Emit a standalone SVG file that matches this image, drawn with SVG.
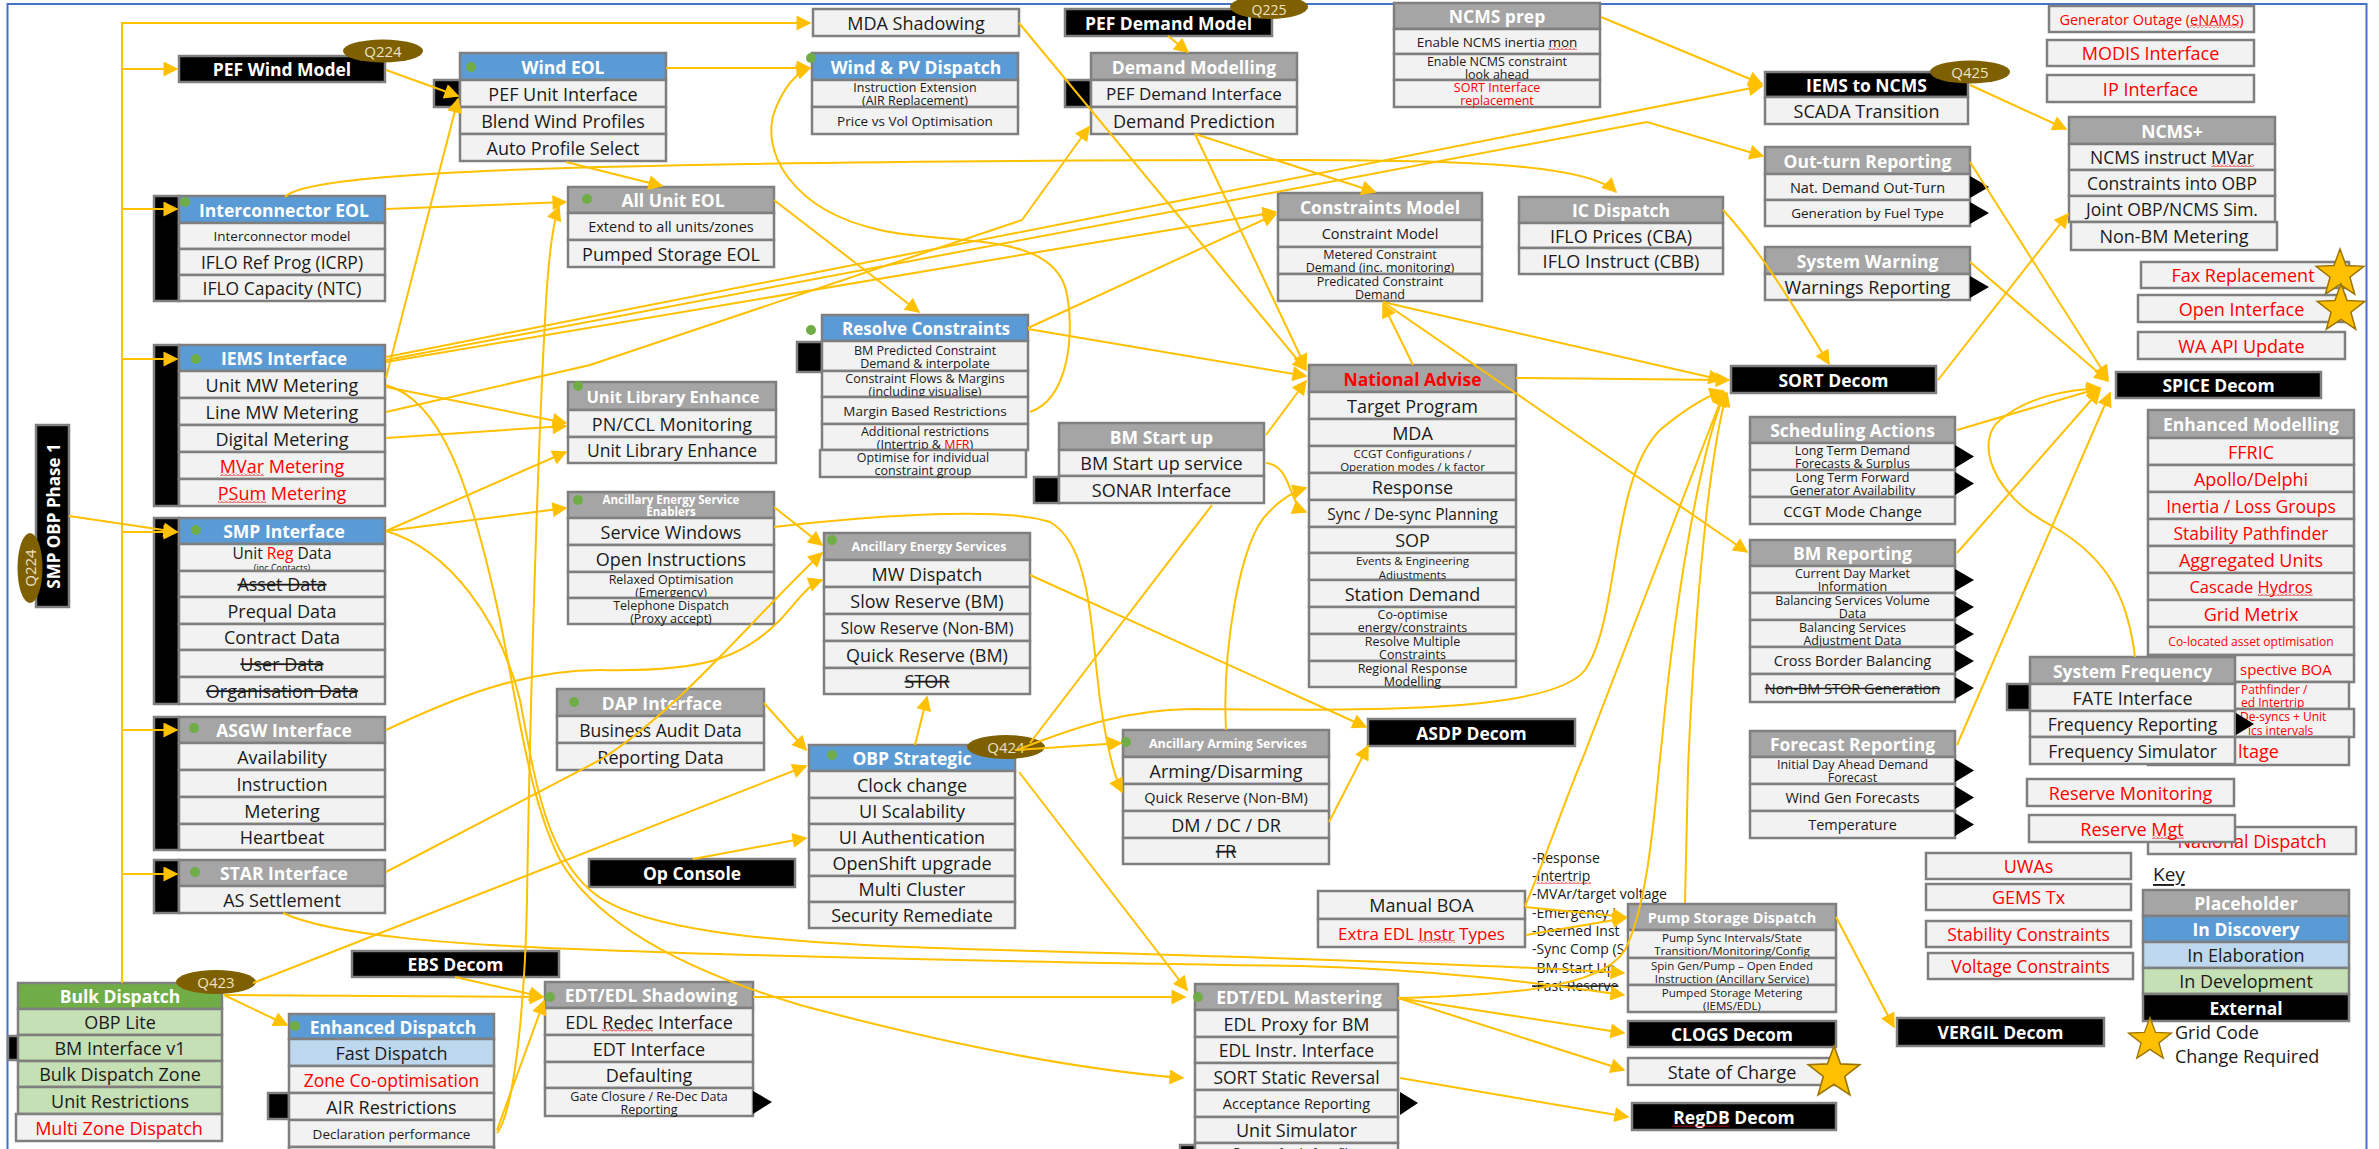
<svg xmlns="http://www.w3.org/2000/svg" width="2379" height="1149" viewBox="0 0 2379 1149">
<defs>
<style>
.r{fill:#F2F2F2;stroke:#7F7F7F;stroke-width:2.5}
.b{fill:#5B9BD5;stroke:#7F7F7F;stroke-width:2.5}
.g{fill:#A5A5A5;stroke:#7F7F7F;stroke-width:2.5}
.k{fill:#000;stroke:#7F7F7F;stroke-width:2.5}
.lb{fill:#BDD7EE;stroke:#7F7F7F;stroke-width:2.5}
.gn{fill:#70AD47;stroke:#7F7F7F;stroke-width:2.5}
.lg{fill:#C5E0B4;stroke:#7F7F7F;stroke-width:2.5}
text{font-family:'Open Sans',Lato,'Liberation Sans',sans-serif;text-anchor:middle;dominant-baseline:central;fill:#1a1a1a;font-size:18px}
.h{font-weight:bold;fill:#fff;font-size:17.5px}
.s{font-size:13.5px}
.s2{font-size:12.5px}
.xs{font-size:11.5px}
.m{font-size:16px}
.red{fill:#FF0000}
.st{text-decoration:line-through}
.dot{fill:#70AD47}
.ov{fill:#7F6000}
.ovt{fill:#EDE3C4;font-size:15px}
.tri{fill:#000}
.lab{text-anchor:start;font-size:14px}
.frag{text-anchor:start}
.c{fill:none;stroke:#FFC000;stroke-width:2;marker-end:url(#ah)}
.n{fill:none;stroke:#FFC000;stroke-width:2}
.star{fill:#FFC000;stroke:#9C7500;stroke-width:1.5}
.wv{fill:url(#wavy)}
</style>
<marker id="ah" viewBox="0 0 10 10" refX="9" refY="5" markerWidth="17" markerHeight="15" markerUnits="userSpaceOnUse" orient="auto"><path d="M0,0 L10,5 L0,10 z" fill="#FFC000"/></marker>
<pattern id="wavy" width="4" height="3" patternUnits="userSpaceOnUse"><path d="M0,2.5 L2,0.5 L4,2.5" fill="none" stroke="#E00000" stroke-width="0.9"/></pattern>
<polygon id="starShape" points="0,-25 6.1,-8.4 23.8,-7.7 9.9,3.2 14.7,20.2 0,10.4 -14.7,20.2 -9.9,3.2 -23.8,-7.7 -6.1,-8.4"/>
</defs>

<rect width="2379" height="1149" fill="#fff"/>
<rect x="7.5" y="4" width="2359" height="1170" fill="none" stroke="#4472C4" stroke-width="2"/>

<!-- left column -->
<g id="smp-obp-phase1">
<rect class="k" x="36" y="425" width="33" height="182"/>
<text class="h" transform="translate(53,516) rotate(-90)" style="font-size:17px">SMP OBP Phase 1</text>
<ellipse class="ov" cx="30" cy="568" rx="12.5" ry="35"/>
<text class="ovt" transform="translate(30,568) rotate(-90)">Q224</text>
</g>

<g id="pef-wind-model">
<rect class="k" x="179" y="56" width="206" height="26"/>
<text class="h" x="282" y="69">PEF Wind Model</text>
<ellipse class="ov" cx="383" cy="51" rx="40" ry="11.5"/>
<text class="ovt" x="383" y="51">Q224</text>
</g>

<g id="interconnector-eol">
<rect class="k" x="154" y="196" width="25" height="105"/>
<rect class="b" x="179" y="196" width="206" height="27"/>
<circle class="dot" cx="185" cy="202" r="5"/>
<text class="h" x="284" y="209.5">Interconnector EOL</text>
<rect class="r" x="179" y="223" width="206" height="26"/><text class="s" x="282" y="236">Interconnector model</text>
<rect class="r" x="179" y="249" width="206" height="26"/><text x="282" y="262" style="font-size:17.5px">IFLO Ref Prog (ICRP)</text>
<rect class="r" x="179" y="275" width="206" height="26"/><text x="282" y="288" style="font-size:17.5px">IFLO Capacity (NTC)</text>
</g>

<g id="iems-interface">
<rect class="k" x="154" y="345" width="25" height="161"/>
<rect class="b" x="179" y="345" width="206" height="26"/>
<circle class="dot" cx="196" cy="359" r="5"/>
<text class="h" x="284" y="358">IEMS Interface</text>
<rect class="r" x="179" y="371" width="206" height="27"/><text x="282" y="384.5">Unit MW Metering</text>
<rect class="r" x="179" y="398" width="206" height="27"/><text x="282" y="411.5">Line MW Metering</text>
<rect class="r" x="179" y="425" width="206" height="27"/><text x="282" y="438.5">Digital Metering</text>
<rect class="r" x="179" y="452" width="206" height="27"/><text class="red" x="282" y="465.5">MVar Metering</text>
<rect class="r" x="179" y="479" width="206" height="27"/><text class="red" x="282" y="492.5">PSum Metering</text>
</g>

<g id="smp-interface">
<rect class="k" x="154" y="518" width="25" height="186"/>
<rect class="b" x="179" y="518" width="206" height="26"/>
<circle class="dot" cx="196" cy="530" r="5"/>
<text class="h" x="284" y="531">SMP Interface</text>
<rect class="r" x="179" y="544" width="206" height="27"/>
<text><tspan x="282" y="552.5" style="font-size:15.5px">Unit <tspan class="red">Reg</tspan> Data</tspan><tspan x="282" y="566.5" style="font-size:9px">(inc Contacts)</tspan></text>
<rect class="r" x="179" y="571" width="206" height="26"/><text class="st" x="282" y="584">Asset Data</text>
<rect class="r" x="179" y="597" width="206" height="27"/><text x="282" y="610.5">Prequal Data</text>
<rect class="r" x="179" y="624" width="206" height="26"/><text x="282" y="637">Contract Data</text>
<rect class="r" x="179" y="650" width="206" height="27"/><text class="st" x="282" y="663.5">User Data</text>
<rect class="r" x="179" y="677" width="206" height="27"/><text class="st" x="282" y="690.5">Organisation Data</text>
</g>

<g id="asgw-interface">
<rect class="k" x="154" y="717" width="25" height="133"/>
<rect class="g" x="179" y="717" width="206" height="26"/>
<circle class="dot" cx="194" cy="728" r="5"/>
<text class="h" x="284" y="730">ASGW Interface</text>
<rect class="r" x="179" y="743" width="206" height="27"/><text x="282" y="756.5">Availability</text>
<rect class="r" x="179" y="770" width="206" height="27"/><text x="282" y="783.5">Instruction</text>
<rect class="r" x="179" y="797" width="206" height="27"/><text x="282" y="810.5">Metering</text>
<rect class="r" x="179" y="824" width="206" height="26"/><text x="282" y="837">Heartbeat</text>
</g>

<g id="star-interface">
<rect class="k" x="154" y="860" width="25" height="53"/>
<rect class="g" x="179" y="860" width="206" height="26"/>
<circle class="dot" cx="195" cy="872" r="5"/>
<text class="h" x="284" y="873">STAR Interface</text>
<rect class="r" x="179" y="886" width="206" height="27"/><text x="282" y="899.5">AS Settlement</text>
</g>

<g id="bulk-dispatch">
<rect class="k" x="8" y="1036" width="12" height="24"/>
<rect class="gn" x="18" y="983" width="204" height="26"/>
<text class="h" x="120" y="996">Bulk Dispatch</text>
<rect class="lg" x="18" y="1009" width="204" height="26"/><text x="120" y="1022">OBP Lite</text>
<rect class="lg" x="18" y="1035" width="204" height="26"/><text x="120" y="1048">BM Interface v1</text>
<rect class="lg" x="18" y="1061" width="204" height="26"/><text x="120" y="1074">Bulk Dispatch Zone</text>
<rect class="lg" x="18" y="1087" width="204" height="27"/><text x="120" y="1100.5">Unit Restrictions</text>
<rect class="r" x="16" y="1114" width="206" height="27"/><text class="red" x="119" y="1127.5">Multi Zone Dispatch</text>
<ellipse class="ov" cx="216" cy="982" rx="40" ry="12"/>
<text class="ovt" x="216" y="982">Q423</text>
</g>

<g id="enhanced-dispatch">
<rect class="k" x="268" y="1093" width="21" height="26"/>
<rect class="b" x="289" y="1014" width="205" height="25"/>
<circle class="dot" cx="295" cy="1026" r="5"/>
<text class="h" x="393" y="1026.5">Enhanced Dispatch</text>
<rect class="lb" x="289" y="1039" width="205" height="27"/><text x="391.5" y="1052.5">Fast Dispatch</text>
<rect class="r" x="289" y="1066" width="205" height="27"/><text class="red" x="391.5" y="1079.5" style="font-size:17.5px">Zone Co-optimisation</text>
<rect class="r" x="289" y="1093" width="205" height="27"/><text x="391.5" y="1106.5">AIR Restrictions</text>
<rect class="r" x="289" y="1120" width="205" height="27"/><text class="s" x="391.5" y="1133.5">Declaration performance</text>
<rect class="r" x="289" y="1147" width="205" height="27"/>
</g>

<g id="ebs-decom">
<rect class="k" x="352" y="951" width="207" height="26"/>
<text class="h" x="455.5" y="964">EBS Decom</text>
</g>

<g id="edt-edl-shadowing">
<rect class="g" x="545" y="982" width="208" height="26"/>
<circle class="dot" cx="550" cy="997" r="5"/>
<text class="h" x="651" y="995">EDT/EDL Shadowing</text>
<rect class="r" x="545" y="1008" width="208" height="27"/><text x="649" y="1021.5">EDL Redec Interface</text>
<rect class="r" x="545" y="1035" width="208" height="27"/><text x="649" y="1048.5">EDT Interface</text>
<rect class="r" x="545" y="1062" width="208" height="26"/><text x="649" y="1075">Defaulting</text>
<rect class="r" x="545" y="1088" width="208" height="28"/>
<text class="s2"><tspan x="649" y="1095.5">Gate Closure / Re-Dec Data</tspan><tspan x="649" y="1108.5">Reporting</tspan></text>
<path class="tri" d="M753,1091 L772,1102 L753,1114 z"/>
</g>

<!-- second column -->
<g id="wind-eol">
<rect class="k" x="434" y="80" width="26" height="27"/>
<rect class="b" x="460" y="53" width="206" height="27"/>
<circle class="dot" cx="471" cy="67" r="5"/>
<text class="h" x="563" y="66.5">Wind EOL</text>
<rect class="r" x="460" y="80" width="206" height="27"/><text x="563" y="93.5">PEF Unit Interface</text>
<rect class="r" x="460" y="107" width="206" height="27"/><text x="563" y="120.5">Blend Wind Profiles</text>
<rect class="r" x="460" y="134" width="206" height="27"/><text x="563" y="147.5">Auto Profile Select</text>
</g>

<g id="all-unit-eol">
<rect class="g" x="568" y="187" width="206" height="26"/>
<circle class="dot" cx="587" cy="199" r="5"/>
<text class="h" x="673" y="200">All Unit EOL</text>
<rect class="r" x="568" y="213" width="206" height="27"/><text x="671" y="226.5" style="font-size:14.5px">Extend to all units/zones</text>
<rect class="r" x="568" y="240" width="206" height="27"/><text x="671" y="253.5">Pumped Storage EOL</text>
</g>

<g id="unit-library-enhance">
<rect class="g" x="568" y="382" width="208" height="28"/>
<circle class="dot" cx="578" cy="386" r="5"/>
<text class="h" x="673" y="396" style="font-size:16.5px">Unit Library Enhance</text>
<rect class="r" x="568" y="410" width="208" height="27"/><text x="672" y="423.5">PN/CCL Monitoring</text>
<rect class="r" x="568" y="437" width="208" height="26"/><text x="672" y="450" style="font-size:17.5px">Unit Library Enhance</text>
</g>

<g id="aes-enablers">
<rect class="g" x="568" y="492" width="206" height="26"/>
<circle class="dot" cx="578" cy="500" r="5"/>
<text class="h" style="font-size:11.5px"><tspan x="671" y="498.5">Ancillary Energy Service</tspan><tspan x="671" y="511">Enablers</tspan></text>
<rect class="r" x="568" y="518" width="206" height="27"/><text x="671" y="531.5">Service Windows</text>
<rect class="r" x="568" y="545" width="206" height="27"/><text x="671" y="558.5">Open Instructions</text>
<rect class="r" x="568" y="572" width="206" height="26"/>
<text class="s2"><tspan x="671" y="578.5">Relaxed Optimisation</tspan><tspan x="671" y="591.5">(Emergency)</tspan></text>
<rect class="r" x="568" y="598" width="206" height="26"/>
<text class="s2"><tspan x="671" y="604.5">Telephone Dispatch</tspan><tspan x="671" y="617.5">(Proxy accept)</tspan></text>
</g>

<g id="dap-interface">
<rect class="g" x="557" y="689" width="207" height="27"/>
<circle class="dot" cx="574" cy="702" r="5"/>
<text class="h" x="662" y="702.5">DAP Interface</text>
<rect class="r" x="557" y="716" width="207" height="27"/><text x="660.5" y="729.5" style="font-size:17.5px">Business Audit Data</text>
<rect class="r" x="557" y="743" width="207" height="27"/><text x="660.5" y="756.5">Reporting Data</text>
</g>

<g id="op-console">
<rect class="k" x="589" y="859" width="206" height="28"/>
<text class="h" x="692" y="873">Op Console</text>
</g>

<!-- third column -->
<g id="mda-shadowing">
<rect class="r" x="813" y="9" width="206" height="27"/>
<text x="916" y="22.5">MDA Shadowing</text>
</g>

<g id="wind-pv-dispatch">
<rect class="b" x="812" y="53" width="206" height="27"/>
<circle class="dot" cx="811" cy="58" r="5"/>
<text class="h" x="916" y="66.5">Wind &amp; PV Dispatch</text>
<rect class="r" x="812" y="80" width="206" height="27"/>
<text class="s2"><tspan x="915" y="87">Instruction Extension</tspan><tspan x="915" y="100">(AIR Replacement)</tspan></text>
<rect class="r" x="812" y="107" width="206" height="27"/><text class="s" x="915" y="120.5">Price vs Vol Optimisation</text>
</g>

<g id="resolve-constraints">
<rect class="k" x="797" y="342" width="25" height="30"/>
<rect class="b" x="822" y="315" width="206" height="26"/>
<circle class="dot" cx="811" cy="330" r="5"/>
<text class="h" x="926" y="328" style="font-size:17px">Resolve Constraints</text>
<rect class="r" x="822" y="341" width="206" height="30"/>
<text class="s2"><tspan x="925" y="349.5">BM Predicted Constraint</tspan><tspan x="925" y="362.5">Demand &amp; interpolate</tspan></text>
<rect class="r" x="822" y="371" width="206" height="26"/>
<text class="s2"><tspan x="925" y="377.5">Constraint Flows &amp; Margins</tspan><tspan x="925" y="390.5">(including visualise)</tspan></text>
<rect class="r" x="822" y="397" width="206" height="27"/><text class="s" x="925" y="410.5">Margin Based Restrictions</text>
<rect class="r" x="822" y="424" width="206" height="26"/>
<text class="s2"><tspan x="925" y="430.5">Additional restrictions</tspan><tspan x="925" y="443.5">(Intertrip &amp; <tspan class="red">MFR</tspan>)</tspan></text>
<rect class="r" x="820" y="450" width="206" height="27"/>
<text class="s2"><tspan x="923" y="457">Optimise for individual</tspan><tspan x="923" y="470">constraint group</tspan></text>
</g>

<g id="ancillary-energy-services">
<rect class="g" x="824" y="533" width="206" height="27"/>
<circle class="dot" cx="832" cy="540" r="5"/>
<text class="h" x="929" y="546.5" style="font-size:12.5px">Ancillary Energy Services</text>
<rect class="r" x="824" y="560" width="206" height="27"/><text x="927" y="573.5">MW Dispatch</text>
<rect class="r" x="824" y="587" width="206" height="27"/><text x="927" y="600.5">Slow Reserve (BM)</text>
<rect class="r" x="824" y="614" width="206" height="27"/><text class="m" x="927" y="627.5">Slow Reserve (Non-BM)</text>
<rect class="r" x="824" y="641" width="206" height="27"/><text x="927" y="654.5">Quick Reserve (BM)</text>
<rect class="r" x="824" y="668" width="206" height="26"/><text class="st" x="927" y="681">STOR</text>
</g>

<g id="obp-strategic">
<rect class="b" x="809" y="745" width="206" height="26"/>
<circle class="dot" cx="832" cy="755" r="5"/>
<text class="h" x="912" y="758">OBP Strategic</text>
<rect class="r" x="809" y="771" width="206" height="27"/><text x="912" y="784.5">Clock change</text>
<rect class="r" x="809" y="798" width="206" height="26"/><text x="912" y="811">UI Scalability</text>
<rect class="r" x="809" y="824" width="206" height="26"/><text x="912" y="837">UI Authentication</text>
<rect class="r" x="809" y="850" width="206" height="26"/><text x="912" y="863">OpenShift upgrade</text>
<rect class="r" x="809" y="876" width="206" height="26"/><text x="912" y="889">Multi Cluster</text>
<rect class="r" x="809" y="902" width="206" height="26"/><text x="912" y="915">Security Remediate</text>
<ellipse class="ov" cx="1006" cy="747" rx="39" ry="12"/>
<text class="ovt" x="1006" y="747">Q424</text>
</g>

<!-- fourth column -->
<g id="pef-demand-model">
<rect class="k" x="1065" y="9" width="207" height="27"/>
<text class="h" x="1168.5" y="22.5">PEF Demand Model</text>
<ellipse class="ov" cx="1269" cy="7" rx="39" ry="12"/>
<text class="ovt" x="1269" y="9" style="font-size:14px">Q225</text>
</g>

<g id="demand-modelling">
<rect class="k" x="1065" y="80" width="26" height="27"/>
<rect class="g" x="1091" y="53" width="206" height="27"/>
<text class="h" x="1194" y="66.5">Demand Modelling</text>
<rect class="r" x="1091" y="80" width="206" height="27"/><text x="1194" y="93.5" style="font-size:17px">PEF Demand Interface</text>
<rect class="r" x="1091" y="107" width="206" height="27"/><text x="1194" y="120.5">Demand Prediction</text>
</g>

<g id="bm-start-up">
<rect class="k" x="1034" y="477" width="25" height="26"/>
<rect class="g" x="1059" y="423" width="205" height="27"/>
<text class="h" x="1161.5" y="436.5">BM Start up</text>
<rect class="r" x="1059" y="450" width="205" height="26"/><text x="1161.5" y="463">BM Start up service</text>
<rect class="r" x="1059" y="476" width="205" height="27"/><text x="1161.5" y="489.5">SONAR Interface</text>
</g>

<g id="ancillary-arming-services">
<rect class="g" x="1123" y="730" width="206" height="27"/>
<circle class="dot" cx="1126" cy="742" r="5"/>
<text class="h" x="1228" y="743.5" style="font-size:12.5px">Ancillary Arming Services</text>
<rect class="r" x="1123" y="757" width="206" height="27"/><text x="1226" y="770.5">Arming/Disarming</text>
<rect class="r" x="1123" y="784" width="206" height="27"/><text x="1226" y="797.5" style="font-size:14.5px">Quick Reserve (Non-BM)</text>
<rect class="r" x="1123" y="811" width="206" height="27"/><text x="1226" y="824.5">DM / DC / DR</text>
<rect class="r" x="1123" y="838" width="206" height="26"/><text class="st" x="1226" y="851">FR</text>
</g>

<g id="constraints-model">
<rect class="g" x="1278" y="193" width="204" height="27"/>
<text class="h" x="1380" y="206.5">Constraints Model</text>
<rect class="r" x="1278" y="220" width="204" height="27"/><text x="1380" y="233.5" style="font-size:14.5px">Constraint Model</text>
<rect class="r" x="1278" y="247" width="204" height="27"/>
<text class="s2"><tspan x="1380" y="254">Metered Constraint</tspan><tspan x="1380" y="267">Demand (inc. monitoring)</tspan></text>
<rect class="r" x="1278" y="274" width="204" height="27"/>
<text class="s2"><tspan x="1380" y="281">Predicated Constraint</tspan><tspan x="1380" y="294">Demand</tspan></text>
</g>

<g id="national-advise">
<rect class="g" x="1309" y="365" width="207" height="27"/>
<text class="h red" x="1412.5" y="378.5">National Advise</text>
<rect class="r" x="1309" y="392" width="207" height="27"/><text x="1412.5" y="405.5">Target Program</text>
<rect class="r" x="1309" y="419" width="207" height="27"/><text x="1412.5" y="432.5">MDA</text>
<rect class="r" x="1309" y="446" width="207" height="27"/>
<text class="xs"><tspan x="1412.5" y="453">CCGT Configurations /</tspan><tspan x="1412.5" y="466">Operation modes / k factor</tspan></text>
<rect class="r" x="1309" y="473" width="207" height="27"/><text x="1412.5" y="486.5">Response</text>
<rect class="r" x="1309" y="500" width="207" height="27"/><text x="1412.5" y="513.5" style="font-size:15.5px">Sync / De-sync Planning</text>
<rect class="r" x="1309" y="527" width="207" height="26"/><text x="1412.5" y="540">SOP</text>
<rect class="r" x="1309" y="553" width="207" height="27"/>
<text class="xs"><tspan x="1412.5" y="560">Events &amp; Engineering</tspan><tspan x="1412.5" y="574">Adjustments</tspan></text>
<rect class="r" x="1309" y="580" width="207" height="27"/><text x="1412.5" y="593.5">Station Demand</text>
<rect class="r" x="1309" y="607" width="207" height="27"/>
<text class="s2"><tspan x="1412.5" y="614">Co-optimise</tspan><tspan x="1412.5" y="627">energy/constraints</tspan></text>
<rect class="r" x="1309" y="634" width="207" height="27"/>
<text class="s2"><tspan x="1412.5" y="641">Resolve Multiple</tspan><tspan x="1412.5" y="654">Constraints</tspan></text>
<rect class="r" x="1309" y="661" width="207" height="26"/>
<text class="s2"><tspan x="1412.5" y="667.5">Regional Response</tspan><tspan x="1412.5" y="680.5">Modelling</tspan></text>
</g>

<g id="asdp-decom">
<rect class="k" x="1368" y="719" width="207" height="27"/>
<text class="h" x="1471.5" y="732.5">ASDP Decom</text>
</g>

<g id="ic-dispatch">
<rect class="g" x="1519" y="197" width="204" height="26"/>
<text class="h" x="1621" y="210">IC Dispatch</text>
<rect class="r" x="1519" y="223" width="204" height="25"/><text x="1621" y="235.5">IFLO Prices (CBA)</text>
<rect class="r" x="1519" y="248" width="204" height="26"/><text x="1621" y="261">IFLO Instruct (CBB)</text>
</g>

<g id="ncms-prep">
<rect class="g" x="1394" y="3" width="206" height="26"/>
<text class="h" x="1497" y="16">NCMS prep</text>
<rect class="r" x="1394" y="29" width="206" height="25"/><text class="s" x="1497" y="41.5">Enable NCMS inertia mon</text>
<rect class="r" x="1394" y="54" width="206" height="26"/>
<text class="s2"><tspan x="1497" y="60.5">Enable NCMS constraint</tspan><tspan x="1497" y="73.5">look ahead</tspan></text>
<rect class="r" x="1394" y="80" width="206" height="27"/>
<text class="s2 red"><tspan x="1497" y="87">SORT Interface</tspan><tspan x="1497" y="100">replacement</tspan></text>
</g>

<!-- bottom centre -->
<g id="instruction-labels">
<text class="lab"><tspan x="1532" y="857">-Response</tspan><tspan x="1532" y="875">-Intertrip</tspan><tspan x="1532" y="893">-MVAr/target voltage</tspan><tspan x="1532" y="912">-Emergency I</tspan><tspan x="1532" y="930">-Deemed Inst</tspan><tspan x="1532" y="948">-Sync Comp (S</tspan><tspan x="1532" y="967">-BM Start Up</tspan><tspan class="st" x="1532" y="985">-Fast Reserve</tspan></text>
</g>

<g id="manual-boa">
<rect class="r" x="1318" y="891" width="207" height="28"/><text x="1421.5" y="905">Manual BOA</text>
<rect class="r" x="1318" y="919" width="207" height="28"/><text class="red" x="1421.5" y="933" style="font-size:17px">Extra EDL Instr Types</text>
</g>

<g id="pump-storage-dispatch">
<rect class="g" x="1628" y="904" width="208" height="26"/>
<text class="h" x="1732" y="917" style="font-size:14.5px">Pump Storage Dispatch</text>
<rect class="r" x="1628" y="930" width="208" height="28"/>
<text class="xs"><tspan x="1732" y="937">Pump Sync Intervals/State</tspan><tspan x="1732" y="950">Transition/Monitoring/Config</tspan></text>
<rect class="r" x="1628" y="958" width="208" height="27"/>
<text class="xs"><tspan x="1732" y="965">Spin Gen/Pump – Open Ended</tspan><tspan x="1732" y="978">Instruction (Ancillary Service)</tspan></text>
<rect class="r" x="1628" y="985" width="208" height="27"/>
<text class="xs"><tspan x="1732" y="992">Pumped Storage Metering</tspan><tspan x="1732" y="1005">(IEMS/EDL)</tspan></text>
</g>

<g id="clogs-decom">
<rect class="k" x="1628" y="1021" width="208" height="26"/>
<text class="h" x="1732" y="1034">CLOGS Decom</text>
</g>

<g id="state-of-charge">
<rect class="r" x="1628" y="1058" width="208" height="27"/>
<text x="1732" y="1071.5">State of Charge</text>
<use href="#starShape" class="star" transform="translate(1834,1073) scale(1.08)"/>
</g>

<g id="regdb-decom">
<rect class="k" x="1632" y="1103" width="204" height="27"/>
<text class="h" x="1734" y="1116.5">RegDB Decom</text>
</g>

<g id="edt-edl-mastering">
<rect class="k" x="1180" y="1145" width="15" height="10"/>
<rect class="g" x="1195" y="984" width="203" height="26"/>
<circle class="dot" cx="1198" cy="997" r="5"/>
<text class="h" x="1299" y="997">EDT/EDL Mastering</text>
<rect class="r" x="1195" y="1010" width="203" height="27"/><text x="1296.5" y="1023.5">EDL Proxy for BM</text>
<rect class="r" x="1195" y="1037" width="203" height="26"/><text x="1296.5" y="1050" style="font-size:17.5px">EDL Instr. Interface</text>
<rect class="r" x="1195" y="1063" width="203" height="27"/><text x="1296.5" y="1076.5" style="font-size:17.5px">SORT Static Reversal</text>
<rect class="r" x="1195" y="1090" width="203" height="27"/><text x="1296.5" y="1103.5" style="font-size:14.5px">Acceptance Reporting</text>
<rect class="r" x="1195" y="1117" width="203" height="26"/><text x="1296.5" y="1130">Unit Simulator</text>
<rect class="r" x="1195" y="1143" width="203" height="27"/><text class="xs" x="1296.5" y="1151">Reverse feed of profiles</text>
<path class="tri" d="M1400,1092 L1418,1103 L1400,1115 z"/>
</g>

<!-- right side -->
<g id="sort-decom">
<rect class="k" x="1731" y="366" width="205" height="27"/>
<text class="h" x="1833.5" y="379.5">SORT Decom</text>
</g>

<g id="spice-decom">
<rect class="k" x="2116" y="372" width="205" height="26"/>
<text class="h" x="2218.5" y="385">SPICE Decom</text>
</g>

<g id="iems-to-ncms">
<rect class="k" x="1765" y="72" width="203" height="25"/>
<text class="h" x="1866.5" y="84.5">IEMS to NCMS</text>
<rect class="r" x="1765" y="97" width="203" height="27"/><text x="1866.5" y="110.5">SCADA Transition</text>
<ellipse class="ov" cx="1970" cy="72" rx="40" ry="11.5"/>
<text class="ovt" x="1970" y="72">Q425</text>
</g>

<g id="out-turn-reporting">
<rect class="g" x="1765" y="147" width="205" height="27"/>
<text class="h" x="1867.5" y="160.5">Out-turn Reporting</text>
<rect class="r" x="1765" y="174" width="205" height="26"/><text x="1867.5" y="187" style="font-size:14.5px">Nat. Demand Out-Turn</text>
<rect class="r" x="1765" y="200" width="205" height="26"/><text class="s" x="1867.5" y="213">Generation by Fuel Type</text>
<path class="tri" d="M1970,176 L1989,187 L1970,198 z M1970,202 L1989,213 L1970,224 z"/>
</g>

<g id="system-warning">
<rect class="g" x="1765" y="247" width="205" height="27"/>
<text class="h" x="1867.5" y="260.5">System Warning</text>
<rect class="r" x="1765" y="274" width="205" height="26"/><text x="1867.5" y="287">Warnings Reporting</text>
<path class="tri" d="M1970,276 L1989,287 L1970,298 z"/>
</g>

<g id="scheduling-actions">
<rect class="g" x="1750" y="417" width="205" height="26"/>
<text class="h" x="1852.5" y="430">Scheduling Actions</text>
<rect class="r" x="1750" y="443" width="205" height="27"/>
<text class="s2"><tspan x="1852.5" y="450">Long Term Demand</tspan><tspan x="1852.5" y="463">Forecasts &amp; Surplus</tspan></text>
<rect class="r" x="1750" y="470" width="205" height="27"/>
<text class="s2"><tspan x="1852.5" y="477">Long Term Forward</tspan><tspan x="1852.5" y="490">Generator Availability</tspan></text>
<rect class="r" x="1750" y="497" width="205" height="27"/><text x="1852.5" y="510.5" style="font-size:15px">CCGT Mode Change</text>
<path class="tri" d="M1955,445 L1974,456.5 L1955,468 z M1955,472 L1974,483.5 L1955,495 z"/>
</g>

<g id="bm-reporting">
<rect class="g" x="1750" y="540" width="205" height="26"/>
<text class="h" x="1852.5" y="553">BM Reporting</text>
<rect class="r" x="1750" y="566" width="205" height="27"/>
<text class="s2"><tspan x="1852.5" y="573">Current Day Market</tspan><tspan x="1852.5" y="586">Information</tspan></text>
<rect class="r" x="1750" y="593" width="205" height="27"/>
<text class="s2"><tspan x="1852.5" y="600">Balancing Services Volume</tspan><tspan x="1852.5" y="613">Data</tspan></text>
<rect class="r" x="1750" y="620" width="205" height="27"/>
<text class="s2"><tspan x="1852.5" y="627">Balancing Services</tspan><tspan x="1852.5" y="640">Adjustment Data</tspan></text>
<rect class="r" x="1750" y="647" width="205" height="27"/><text x="1852.5" y="660.5" style="font-size:14.5px">Cross Border Balancing</text>
<rect class="r" x="1750" y="674" width="205" height="28"/><text class="st" x="1852.5" y="688" style="font-size:14.5px">Non-BM STOR Generation</text>
<path class="tri" d="M1955,569 L1974,580 L1955,591 z M1955,596 L1974,607 L1955,618 z M1955,623 L1974,634 L1955,645 z M1955,650 L1974,661 L1955,672 z M1955,677 L1974,688 L1955,699 z"/>
</g>

<g id="forecast-reporting">
<rect class="g" x="1750" y="731" width="205" height="26"/>
<text class="h" x="1852.5" y="744">Forecast Reporting</text>
<rect class="r" x="1750" y="757" width="205" height="27"/>
<text class="s2"><tspan x="1852.5" y="764">Initial Day Ahead Demand</tspan><tspan x="1852.5" y="777">Forecast</tspan></text>
<rect class="r" x="1750" y="784" width="205" height="27"/><text x="1852.5" y="797.5" style="font-size:14.5px">Wind Gen Forecasts</text>
<rect class="r" x="1750" y="811" width="205" height="27"/><text x="1852.5" y="824.5" style="font-size:14.5px">Temperature</text>
<path class="tri" d="M1955,759 L1974,770.5 L1955,782 z M1955,786 L1974,797.5 L1955,809 z M1955,813 L1974,824.5 L1955,836 z"/>
</g>

<g id="generator-outage">
<rect class="r" x="2049" y="6" width="205" height="26"/>
<text class="red" x="2151.5" y="19" style="font-size:14.5px">Generator Outage (eNAMS)</text>
</g>
<g id="modis-interface">
<rect class="r" x="2047" y="40" width="207" height="26"/>
<text class="red" x="2150.5" y="53">MODIS Interface</text>
</g>
<g id="ip-interface">
<rect class="r" x="2047" y="75" width="207" height="27"/>
<text class="red" x="2150.5" y="88.5">IP Interface</text>
</g>

<g id="ncms-plus">
<rect class="g" x="2069" y="117" width="206" height="27"/>
<text class="h" x="2172" y="130.5">NCMS+</text>
<rect class="r" x="2069" y="144" width="206" height="26"/><text x="2172" y="157" style="font-size:17.5px">NCMS instruct MVar</text>
<rect class="r" x="2069" y="170" width="206" height="26"/><text x="2172" y="183" style="font-size:17.5px">Constraints into OBP</text>
<rect class="r" x="2069" y="196" width="206" height="26"/><text x="2172" y="209" style="font-size:17.5px">Joint OBP/NCMS Sim.</text>
<rect class="r" x="2071" y="222" width="206" height="28"/><text x="2174" y="236">Non-BM Metering</text>
</g>

<g id="fax-replacement">
<rect class="r" x="2141" y="262" width="208" height="26"/>
<text class="red" x="2243" y="275">Fax Replacement</text>
<use href="#starShape" class="star" transform="translate(2340,274)"/>
</g>
<g id="open-interface">
<rect class="r" x="2138" y="295" width="207" height="27"/>
<text class="red" x="2241.5" y="308.5">Open Interface</text>
<use href="#starShape" class="star" transform="translate(2341,309)"/>
</g>
<g id="wa-api-update">
<rect class="r" x="2138" y="332" width="207" height="27"/>
<text class="red" x="2241.5" y="345.5">WA API Update</text>
</g>

<g id="enhanced-modelling">
<rect class="g" x="2148" y="410" width="206" height="28"/>
<text class="h" x="2251" y="424">Enhanced Modelling</text>
<rect class="r" x="2148" y="438" width="206" height="27"/><text class="red" x="2251" y="451.5">FFRIC</text>
<rect class="r" x="2148" y="465" width="206" height="27"/><text class="red" x="2251" y="478.5">Apollo/Delphi</text>
<rect class="r" x="2148" y="492" width="206" height="27"/><text class="red" x="2251" y="505.5" style="font-size:17.5px">Inertia / Loss Groups</text>
<rect class="r" x="2148" y="519" width="206" height="27"/><text class="red" x="2251" y="532.5" style="font-size:17.5px">Stability Pathfinder</text>
<rect class="r" x="2148" y="546" width="206" height="27"/><text class="red" x="2251" y="559.5">Aggregated Units</text>
<rect class="r" x="2148" y="573" width="206" height="27"/><text class="red" x="2251" y="586.5" style="font-size:16.5px">Cascade Hydros</text>
<rect class="r" x="2148" y="600" width="206" height="27"/><text class="red" x="2251" y="613.5">Grid Metrix</text>
<rect class="r" x="2148" y="627" width="206" height="28"/><text class="red" x="2251" y="641" style="font-size:12px">Co-located asset optimisation</text>
<rect class="r" x="2148" y="655" width="206" height="27"/><text class="red frag" x="2240" y="668.5" style="font-size:15px">spective BOA</text>
<rect class="r" x="2148" y="682" width="201" height="27"/>
<text class="red frag" style="font-size:12px"><tspan x="2241" y="689">Pathfinder /</tspan><tspan x="2241" y="702">ed Intertrip</tspan></text>
<rect class="r" x="2148" y="709" width="206" height="28"/>
<text class="red frag" style="font-size:12px"><tspan x="2240" y="716">De-syncs + Unit</tspan><tspan x="2248" y="730">ics intervals</tspan></text>
<rect class="r" x="2148" y="737" width="201" height="28"/><text class="red frag" x="2238" y="751" style="font-size:18px">ltage</text>
</g>

<g id="system-frequency">
<rect class="k" x="2007" y="684" width="23" height="26"/>
<rect class="g" x="2030" y="657" width="205" height="27"/>
<text class="h" x="2132.5" y="670.5">System Frequency</text>
<rect class="r" x="2030" y="684" width="205" height="27"/><text x="2132.5" y="697.5">FATE Interface</text>
<rect class="r" x="2030" y="711" width="205" height="26"/><text x="2132.5" y="724" style="font-size:17.5px">Frequency Reporting</text>
<rect class="r" x="2030" y="737" width="205" height="27"/><text x="2132.5" y="750.5" style="font-size:17.5px">Frequency Simulator</text>
<path class="tri" d="M2236,713 L2254,724 L2236,735 z"/>
</g>

<g id="reserve-monitoring">
<rect class="r" x="2027" y="779" width="207" height="27"/>
<text class="red" x="2130.5" y="792.5">Reserve Monitoring</text>
</g>
<g id="national-dispatch">
<rect class="r" x="2148" y="827" width="208" height="27"/>
<text class="red" x="2252" y="840.5">National Dispatch</text>
</g>
<g id="reserve-mgt">
<rect class="r" x="2029" y="815" width="206" height="27"/>
<text class="red" x="2132" y="828.5">Reserve Mgt</text>
</g>
<g id="uwas"><rect class="r" x="1926" y="853" width="205" height="26"/><text class="red" x="2028.5" y="866">UWAs</text></g>
<g id="gems-tx"><rect class="r" x="1926" y="884" width="205" height="26"/><text class="red" x="2028.5" y="897">GEMS Tx</text></g>
<g id="stability-constraints"><rect class="r" x="1926" y="921" width="205" height="26"/><text class="red" x="2028.5" y="934" style="font-size:17.5px">Stability Constraints</text></g>
<g id="voltage-constraints"><rect class="r" x="1928" y="953" width="205" height="26"/><text class="red" x="2030.5" y="966" style="font-size:17.5px">Voltage Constraints</text></g>

<g id="vergil-decom">
<rect class="k" x="1897" y="1018" width="207" height="28"/>
<text class="h" x="2000.5" y="1032">VERGIL Decom</text>
</g>

<g id="key">
<text x="2153" y="874" style="text-anchor:start;font-size:19px;text-decoration:underline">Key</text>
<rect class="g" x="2143" y="890" width="206" height="26"/><text class="h" x="2246" y="903">Placeholder</text>
<rect class="b" x="2143" y="916" width="206" height="26"/><text class="h" x="2246" y="929">In Discovery</text>
<rect class="lb" x="2143" y="942" width="206" height="26"/><text x="2246" y="955">In Elaboration</text>
<rect class="lg" x="2143" y="968" width="206" height="26"/><text x="2246" y="981">In Development</text>
<rect class="k" x="2143" y="994" width="206" height="27"/><text class="h" x="2246" y="1007.5">External</text>
<use href="#starShape" class="star" transform="translate(2150,1040) scale(0.9)"/>
<text style="text-anchor:start"><tspan x="2175" y="1032">Grid Code</tspan><tspan x="2175" y="1056">Change Required</tspan></text>
</g>

<!-- red wavy proofing marks under flagged words -->
<g id="proofing-marks">
<rect class="wv" x="220" y="473" width="44" height="3"/>
<rect class="wv" x="218" y="500" width="48" height="3"/>
<rect class="wv" x="1548" y="47" width="29" height="3"/>
<rect class="wv" x="2190" y="25" width="49" height="3"/>
<rect class="wv" x="2211" y="164" width="43" height="3"/>
<rect class="wv" x="2258" y="593" width="55" height="3"/>
<rect class="wv" x="602" y="1029" width="51" height="3"/>
<rect class="wv" x="2152" y="836" width="32" height="3"/>
<rect class="wv" x="1672" y="1124" width="58" height="3"/>
<rect class="wv" x="1418" y="940" width="37" height="3"/>
<rect class="wv" x="1537" y="881" width="54" height="3"/>
</g>

<!-- connectors -->
<g id="connectors">
<path class="c" d="M122,983 V23 H810"/>
<path class="c" d="M122,69 H177"/>
<path class="c" d="M122,209 H177"/>
<path class="c" d="M122,359 H177"/>
<path class="c" d="M122,532 H177"/>
<path class="c" d="M122,730 H177"/>
<path class="c" d="M122,874 H177"/>
<path class="c" d="M69,516 L177,532"/>
<path class="c" d="M386,70 L458,96"/>
<path class="c" d="M386,378 L458,99"/>
<path class="c" d="M666,68 H810"/>
<path class="c" d="M566,162 L662,186"/>
<path class="c" d="M285,197 C300,180 420,172 600,167 C800,162 1100,160 1300,160 C1480,160 1590,166 1616,192"/>
<path class="c" d="M386,209 L566,202"/>
<path class="c" d="M386,357 L1762,86"/>
<path class="c" d="M386,360 L1647,122 L1763,156"/>
<path class="c" d="M386,362 L1276,212"/>
<path class="c" d="M386,412 L590,365 L1022,220 L1089,127"/>
<path class="c" d="M386,387 L566,423"/>
<path class="c" d="M386,438 L566,426"/>
<path class="c" d="M386,531 L566,452"/>
<path class="c" d="M386,531 L566,508"/>
<path class="c" d="M386,385 C440,400 470,480 500,620 C520,720 530,800 560,860 C600,930 700,975 800,1005 C950,1045 1080,1070 1183,1078"/>
<path class="c" d="M386,531 C450,550 500,620 520,700 C535,780 545,850 590,890 C640,935 800,945 1000,950 C1300,958 1500,965 1624,973"/>
<path class="c" d="M283,913 C330,935 450,945 600,950 C800,958 1100,963 1300,966 C1450,970 1550,985 1624,995"/>
<path class="c" d="M497,1133 C515,1110 525,1000 527,900 C530,700 538,450 545,320 C548,260 552,225 559,207"/>
<path class="c" d="M497,1130 L544,1001"/>
<path class="c" d="M774,200 L919,312"/>
<path class="c" d="M1028,328 L1276,214"/>
<path class="c" d="M1028,329 L1306,376"/>
<path class="c" d="M1030,412 C1070,398 1075,330 1066,290 C1050,230 950,246 880,230 C790,210 760,150 775,110 C785,85 798,72 810,68"/>
<path class="c" d="M1195,134 L1375,192"/>
<path class="c" d="M1195,134 L1306,368"/>
<path class="c" d="M1019,23 L1306,370"/>
<path class="c" d="M1168,36 L1188,52"/>
<path class="c" d="M1413,365 L1383,304"/>
<path class="c" d="M1383,302 L1722,380"/>
<path class="c" d="M1383,302 L1747,552"/>
<path class="c" d="M1516,378 L1729,380"/>
<path class="c" d="M1601,17 L1762,84"/>
<path class="c" d="M1970,85 L2066,129"/>
<path class="c" d="M1723,210 C1760,250 1790,300 1829,364"/>
<path class="c" d="M1938,380 L2068,214"/>
<path class="c" d="M1970,162 L2108,379"/>
<path class="c" d="M1970,262 L2108,381"/>
<path class="c" d="M1957,430 L2100,388"/>
<path class="c" d="M1957,553 L2100,390"/>
<path class="c" d="M1957,745 L2110,393"/>
<path class="c" d="M2135,657 C2128,600 2110,560 2054,527 C1990,495 1975,440 2000,420 C2030,395 2070,390 2100,388"/>
<path class="c" d="M1017,750 C1080,725 1130,710 1190,709 C1350,710 1550,715 1585,670 C1620,620 1610,480 1660,430 C1690,405 1710,395 1723,391"/>
<path class="c" d="M1525,906 C1545,860 1565,800 1582,760 L1724,392"/>
<path class="c" d="M1398,998 C1500,995 1600,990 1625,950 C1650,900 1655,800 1662,740 C1675,600 1700,450 1725,393"/>
<path class="c" d="M1685,903 L1688,770 C1695,600 1710,450 1727,393"/>
<path class="c" d="M1398,998 L1624,1033"/>
<path class="c" d="M1398,998 L1624,1070"/>
<path class="c" d="M1400,1078 L1628,1117"/>
<path class="c" d="M1525,907 L1626,917"/>
<path class="c" d="M1526,935 L1626,918"/>
<path class="c" d="M1836,917 L1894,1027"/>
<path class="c" d="M1266,435 L1306,381"/>
<path class="c" d="M1266,463 C1292,465 1288,505 1306,512"/>
<path class="c" d="M1226,730 C1222,650 1240,540 1268,513 C1280,500 1292,492 1306,488"/>
<path class="c" d="M1030,575 L1366,727"/>
<path class="c" d="M1329,822 L1368,746"/>
<path class="n" d="M1030,743 L1212,505"/>
<path class="c" d="M1015,750 L1121,743"/>
<path class="c" d="M915,745 L927,697"/>
<path class="c" d="M1019,772 L1187,990"/>
<path class="c" d="M764,703 L806,750"/>
<path class="c" d="M693,859 L806,838"/>
<path class="c" d="M253,983 L806,766"/>
<path class="c" d="M224,995 L287,1025"/>
<path class="c" d="M224,995 L543,997"/>
<path class="c" d="M455,977 L543,997"/>
<path class="c" d="M753,997 L1185,997"/>
<path class="c" d="M774,507 L822,545"/>
<path class="c" d="M774,527 C850,518 1000,505 1050,522 C1090,545 1090,620 1100,700 C1108,755 1116,780 1122,792"/>
<path class="c" d="M386,730 C450,700 520,670 600,670 C700,672 740,660 780,620 C800,598 808,585 822,580"/>
<path class="c" d="M386,872 L600,760 C680,710 760,610 822,553"/>
</g>
</svg>
